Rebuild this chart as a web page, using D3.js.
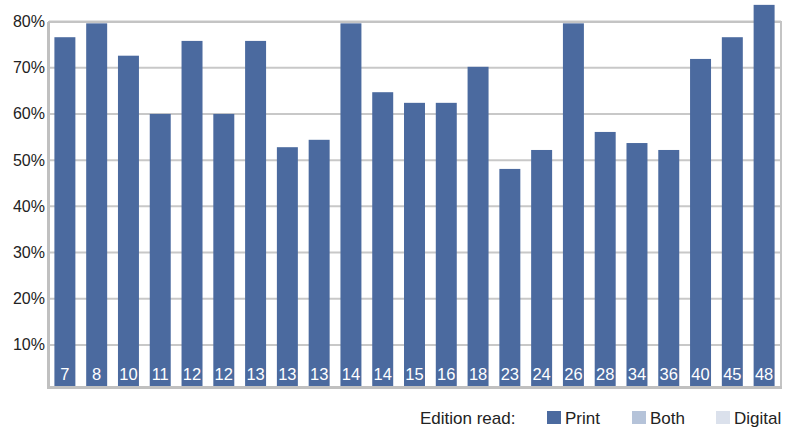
<!DOCTYPE html>
<html>
<head>
<meta charset="utf-8">
<script src="https://cdn.jsdelivr.net/npm/d3@7"></script>
<style>
  html, body { margin: 0; padding: 0; background: #fff; }
  svg { display: block; font-family: "Liberation Sans", Arial, sans-serif; }
</style>
</head>
<body>
<svg id="chart" width="785" height="427"></svg>
<script>
// Bar labels (shown inside each bar, at the bottom)
const barLabels = ["7","8","10","11","12","12","13","13","13","14","14","15","16","18","23","24","26","28","34","36","40","45","48"];
// Share who read the print edition, in percent
const printShare = [76.6, 79.6, 72.6, 60.0, 75.8, 60.0, 75.8, 52.8, 54.4, 79.6, 64.7, 62.4, 62.4, 70.2, 48.1, 52.2, 79.6, 56.1, 53.7, 52.2, 71.9, 76.6, 83.6];
// Y axis ticks
const yTicks = [10, 20, 30, 40, 50, 60, 70, 80];
// Legend entries
const legendTitle = "Edition read:";
const legendItems = ["Print", "Both", "Digital"];
const legendColors = ["#4b6a9f", "#b5c3d9", "#dbe1ec"];

const svg = d3.select("#chart");
const plotLeft = 49, plotRight = 781, plotTop = 22, plotBottom = 387;

const x = d3.scaleBand()
  .domain(barLabels.map((d, i) => i))
  .range([plotLeft, plotRight - 1])
  .paddingInner(0.34)
  .paddingOuter(0.17);

const y = d3.scaleLinear().domain([0, 80]).range([391.2, 21.5]);

// Grid lines
svg.append("g")
  .selectAll("line")
  .data(yTicks)
  .join("line")
  .attr("x1", plotLeft).attr("x2", plotRight)
  .attr("y1", d => y(d)).attr("y2", d => y(d))
  .attr("stroke", "#c8c8c8")
  .attr("stroke-width", 2);

// Plot frame
svg.append("rect")
  .attr("x", plotLeft).attr("y", plotTop)
  .attr("width", plotRight - plotLeft).attr("height", plotBottom - plotTop)
  .attr("fill", "none")
  .attr("stroke", "#c4c4c4")
  .attr("stroke-width", 2);
svg.append("line")
  .attr("x1", plotLeft - 0.5).attr("x2", plotLeft - 0.5)
  .attr("y1", plotTop).attr("y2", plotBottom + 1.5)
  .attr("stroke", "#c0c0c0").attr("stroke-width", 3);
svg.append("line")
  .attr("x1", plotLeft - 2).attr("x2", plotRight + 1)
  .attr("y1", plotBottom + 0.5).attr("y2", plotBottom + 0.5)
  .attr("stroke", "#c0c0c0").attr("stroke-width", 3);

// Bars
svg.append("g")
  .selectAll("rect")
  .data(printShare)
  .join("rect")
  .attr("x", (d, i) => x(i))
  .attr("width", x.bandwidth())
  .attr("y", d => y(d))
  .attr("height", d => (plotBottom - 1) - y(d))
  .attr("fill", legendColors[0]);

// Labels inside bars
svg.append("g")
  .selectAll("text")
  .data(barLabels)
  .join("text")
  .attr("x", (d, i) => x(i) + x.bandwidth() / 2)
  .attr("y", 379.5)
  .attr("text-anchor", "middle")
  .attr("fill", "#ffffff")
  .attr("font-size", "16.5px")
  .text(d => d);

// Y axis labels
svg.append("g")
  .selectAll("text")
  .data(yTicks)
  .join("text")
  .attr("x", 45)
  .attr("y", d => y(d) + 5.5)
  .attr("text-anchor", "end")
  .attr("fill", "#222")
  .attr("font-size", "16px")
  .text(d => d + "%");

// Legend
const legend = svg.append("g");
legend.append("text")
  .attr("x", 420).attr("y", 424)
  .attr("font-size", "17px").attr("fill", "#222")
  .text(legendTitle);
const legendX = [547, 632, 716];
legendItems.forEach((name, i) => {
  legend.append("rect")
    .attr("x", legendX[i]).attr("y", 411)
    .attr("width", 14).attr("height", 13)
    .attr("fill", legendColors[i]);
  legend.append("text")
    .attr("x", legendX[i] + 18).attr("y", 424)
    .attr("font-size", "17px").attr("fill", "#222")
    .text(name);
});
</script>
</body>
</html>
